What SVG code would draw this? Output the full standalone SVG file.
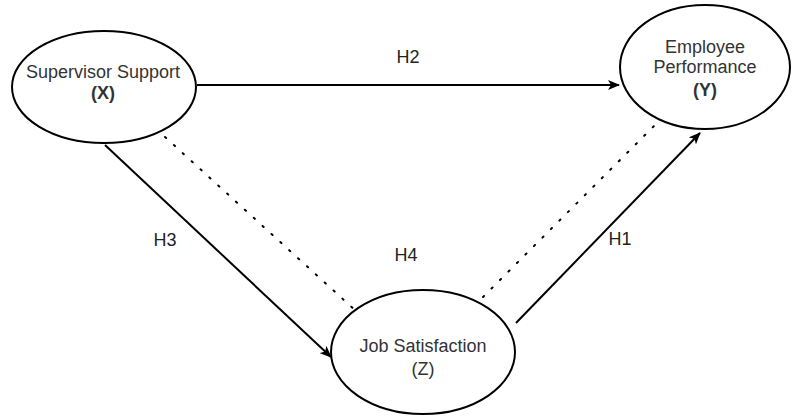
<svg xmlns="http://www.w3.org/2000/svg" width="793" height="416" viewBox="0 0 793 416">
<style>
.node ellipse{fill:#fff;stroke:#000;stroke-width:2}
.t{font-family:"Liberation Sans",Arial,sans-serif;font-size:18px;fill:#333;text-anchor:middle}
.lbl{font-family:"Liberation Sans",Arial,sans-serif;font-size:18px;fill:#222;text-anchor:middle}
.solid{stroke:#000;stroke-width:2;fill:none}
.dot{stroke:#000;stroke-width:2;fill:none;stroke-dasharray:1.5 10.5;stroke-linecap:round}
</style>
<defs>
<marker id="arr" viewBox="0 0 12 10" refX="11" refY="5" markerWidth="12" markerHeight="10" markerUnits="userSpaceOnUse" orient="auto">
<path d="M0,0 L12,5 L0,10 L3,5 Z" fill="#000"/>
</marker>
</defs>
<g id="connectors">
<line class="solid" x1="197" y1="85" x2="619" y2="85" marker-end="url(#arr)"/>
<line class="solid" x1="105" y1="145" x2="331" y2="357" marker-end="url(#arr)"/>
<line class="solid" x1="516" y1="323" x2="700" y2="133" marker-end="url(#arr)"/>
<line class="dot" x1="165" y1="137" x2="356" y2="311"/>
<line class="dot" x1="483" y1="297" x2="656" y2="124"/>
<text class="lbl" x="408" y="63">H2</text>
<text class="lbl" x="165" y="246">H3</text>
<text class="lbl" x="406" y="261">H4</text>
<text class="lbl" x="620" y="245">H1</text>
</g>
<g id="nodeX" class="node">
<ellipse cx="104" cy="87" rx="92" ry="56"/>
<text class="t" x="103" y="78">Supervisor Support</text>
<text class="t" x="103" y="99" font-weight="bold">(X)</text>
</g>
<g id="nodeY" class="node">
<ellipse cx="705" cy="67" rx="85" ry="62"/>
<text class="t" x="705" y="53">Employee</text>
<text class="t" x="705" y="73">Performance</text>
<text class="t" x="705" y="96" font-weight="bold">(Y)</text>
</g>
<g id="nodeZ" class="node">
<ellipse cx="423" cy="352" rx="92" ry="62"/>
<text class="t" x="423" y="352">Job Satisfaction</text>
<text class="t" x="423" y="375">(Z)</text>
</g>
</svg>
